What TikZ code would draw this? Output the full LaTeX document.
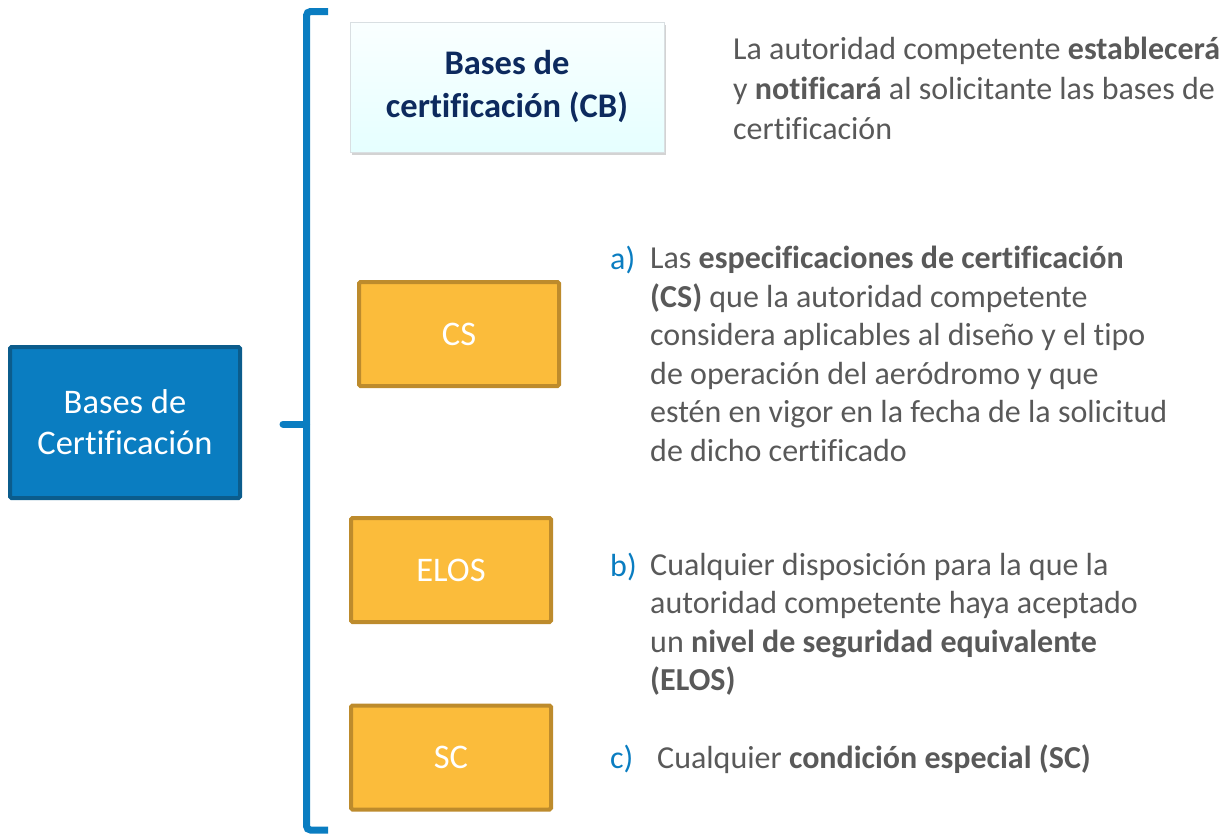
\documentclass[tikz,border=0pt]{standalone}
\usepackage{fontspec}
\setmainfont[RawFeature={-liga;-clig;-calt;-dlig}]{Carlito}
\usetikzlibrary{shadows}

\definecolor{azul}{HTML}{0A7DC1}
\definecolor{azulosc}{HTML}{0B5C8C}
\definecolor{naranja}{HTML}{FBBC3B}
\definecolor{naranjaosc}{HTML}{BD8B2C}
\definecolor{marino}{HTML}{0D2A5E}
\definecolor{gris}{HTML}{595959}

\tikzset{
  cajabase/.style={draw=azulosc,fill=azul,line width=4pt,rounded corners=1.5pt,
    minimum width=230pt,minimum height=151pt,text=white,align=center,
    font=\fontsize{34.5}{41}\selectfont},
  cajaorange/.style={draw=naranjaosc,fill=naranja,line width=4pt,rounded corners=1.5pt,
    minimum width=200pt,minimum height=104pt,text=white,
    font=\fontsize{34.5}{40}\selectfont},
  texto/.style={anchor=north west,inner sep=0pt,align=left,text=gris,
    font=\fontsize{32}{38.5}\selectfont},
  letra/.style={anchor=base west,inner sep=0pt,text=azul,
    font=\fontsize{32}{38.5}\selectfont}
}

\begin{document}
\begin{tikzpicture}[x=1pt,y=-1pt]
  \useasboundingbox (0,0) rectangle (1224,836);
  % caja principal
  \node[cajabase] (bc) at (125,422.5) {Bases de\\Certificación};
  % llave
  \coordinate (llavetop) at (328,11.5);
  \coordinate (llavebot) at (328,830);
  \coordinate (pico) at (283,424);
  \draw[azul,line width=7pt,rounded corners=4pt] (llavetop) -- ++(-21.5,0) |- (llavebot);
  \draw[azul,line width=7pt,line cap=round] (pico) -- ++(23.5,0);
  % bases de certificacion (CB)
  \node[draw=cyan!15!gray!30,top color=cyan!2,bottom color=cyan!10,
        drop shadow={opacity=0.35,shadow xshift=2pt,shadow yshift=-3pt},
        minimum width=314pt,minimum height=130pt,align=center,text=marino,
        font=\bfseries\fontsize{34.5}{43}\selectfont] (cb) at (507,87)
        {Bases de\\certificación (CB)};
  \node[texto,font=\fontsize{32}{40}\selectfont] (txtcb) at (733,37)
    {La autoridad competente \textbf{establecerá}\\
    y \textbf{notificará} al solicitante las bases de\\certificación};
  % CS, ELOS, SC
  \node[cajaorange] (cs) at (459,334) {CS};
  \node[cajaorange] (elos) at (451,570) {ELOS};
  \node[cajaorange] (sc) at (451,757.5) {SC};
  \node[letra] (la) at (610,269) {a)};
  \node[texto] (txta) at (650,246) {Las \textbf{especificaciones de certificación}\\
    \textbf{(CS)} que la autoridad competente\\
    considera aplicables al diseño y el tipo\\
    de operación del aeródromo y que\\
    estén en vigor en la fecha de la solicitud\\
    de dicho certificado};
  \node[letra] (lb) at (610,576) {b)};
  \node[texto] (txtb) at (650,553) {Cualquier disposición para la que la\\
    autoridad competente haya aceptado\\
    un \textbf{nivel de seguridad equivalente}\\
    \textbf{(ELOS)}};
  \node[letra] (lc) at (610,768) {c)};
  \node[texto] (txtc) at (657,745) {Cualquier \textbf{condición especial (SC)}};
\end{tikzpicture}
\end{document}
